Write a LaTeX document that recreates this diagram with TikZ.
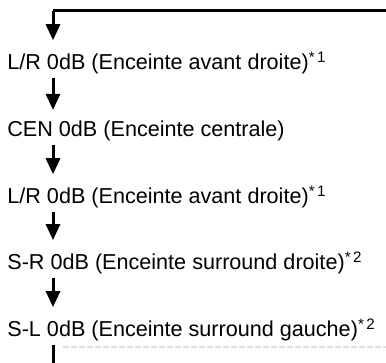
\documentclass[tikz,border=0pt]{standalone}
\usepackage{fontspec}
\setmainfont{Liberation Sans}
\usetikzlibrary{arrows.meta}
\tikzset{
  label/.style={anchor=base west,inner sep=0pt,font=\fontsize{10.8pt}{12pt}\selectfont},
  flow/.style={line width=1.5pt,-{Triangle[width=7pt,length=8pt]},shorten <=1.5pt,shorten >=5.5pt}
}
\begin{document}
\begin{tikzpicture}[x=0.5pt,y=-0.5pt]
\useasboundingbox (0,0) rectangle (386,363);
\coordinate (corner) at (386,11);
\coordinate (top) at (53,11);
\coordinate (bottom) at (53,363);
\node[label] (lr1) at (7,70) {L/R 0dB (Enceinte avant droite)\textsuperscript{*\,1}};
\node[label] (cen) at (7,137) {CEN 0dB (Enceinte centrale)};
\node[label] (lr2) at (7,204) {L/R 0dB (Enceinte avant droite)\textsuperscript{*\,1}};
\node[label] (sr) at (7,270) {S-R 0dB (Enceinte surround droite)\textsuperscript{*\,2}};
\node[label] (sl) at (7,337) {S-L 0dB (Enceinte surround gauche)\textsuperscript{*\,2}};
\draw[line width=1.5pt] (corner) -- (top);
\draw[flow,shorten <=0pt] (top) -- (lr1.north -| top);
\draw[flow] (lr1.south -| top) -- (cen.north -| top);
\draw[flow] (cen.south -| top) -- (lr2.north -| top);
\draw[flow] (lr2.south -| top) -- (sr.north -| top);
\draw[flow] (sr.south -| top) -- (sl.north -| top);
\draw[line width=1.5pt,shorten <=1.5pt] (sl.south -| top) -- (bottom);
\draw[gray!25,line width=0.6pt,dash pattern=on 3pt off 1pt] (63,347) -- (386,347);
\end{tikzpicture}
\end{document}
